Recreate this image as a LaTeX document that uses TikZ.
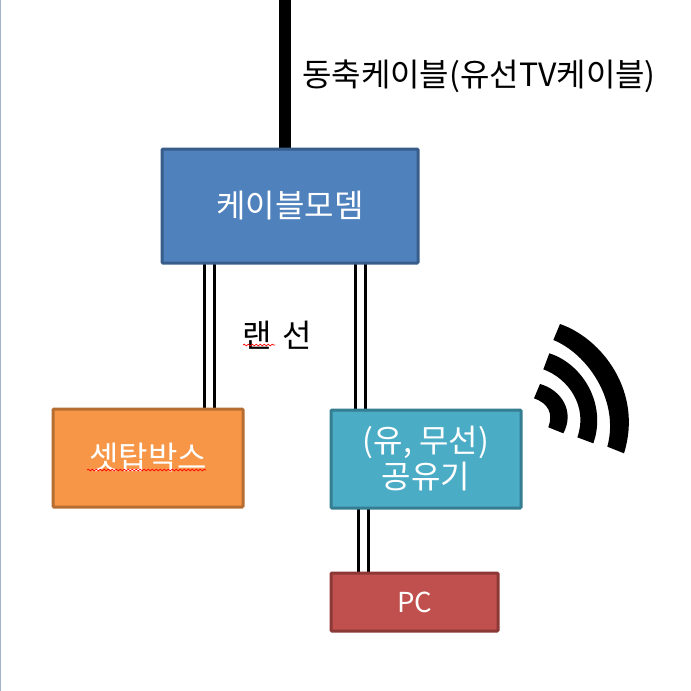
\documentclass[tikz,border=0pt]{standalone}
\usepackage{fontspec}
\setmainfont{Noto Sans CJK KR}
\usetikzlibrary{calc,decorations.pathmorphing}
\pgfdeclarelayer{bg}
\pgfsetlayers{bg,main}
\definecolor{bluefill}{HTML}{4F81BD}\definecolor{blueline}{HTML}{385D8A}
\definecolor{orangefill}{HTML}{F79646}\definecolor{orangeline}{HTML}{B66D31}
\definecolor{tealfill}{HTML}{4BACC6}\definecolor{tealline}{HTML}{357D91}
\definecolor{redfill}{HTML}{C0504D}\definecolor{redline}{HTML}{8C3836}
\definecolor{edgeblue}{HTML}{A3B3CC}
\tikzset{
  box/.style={draw=#1line,fill=#1fill,line width=3pt,rounded corners=1pt,outer sep=0pt,inner sep=0pt,
    text=white,font=\fontsize{32}{37}\selectfont,align=center},
  lan/.style={preaction={draw=black,line width=12.4pt},draw=white,line width=6.8pt},
  coax/.style={draw=black,line width=12pt},
  label/.style={text=black,font=\fontsize{32}{37}\selectfont,inner sep=0pt},
  spell/.style={draw=red,line width=0.7pt,decorate,decoration={snake,amplitude=0.8pt,segment length=4pt}},
  wave/.style={fill=black,draw=none}
}
\begin{document}
\begin{tikzpicture}[x=1pt,y=-1pt]
\useasboundingbox (0,0) rectangle (691,691);
\fill[edgeblue] (0,0) rectangle (1.2,691);
\node[box=blue,minimum width=256pt,minimum height=114pt] (modem) at (290,206) {\raisebox{-1pt}{케이블모뎀}};
\node[box=orange,minimum width=190pt,minimum height=98pt] (stb) at (148,458) {셋탑박스};
\node[box=teal,minimum width=190pt,minimum height=98pt] (router) at (426,459) {\raisebox{-2pt}{(유, 무선)}\\\raisebox{-1pt}{공유기}};
\node[box=red,minimum width=167pt,minimum height=58pt,font=\fontsize{27.5}{32}\selectfont] (pc) at (414.5,602) {PC};
\node[label] (coaxlabel) at (479,76.5) {동축케이블(유선TV케이블)};
\node[label] (lanlabel) at (277.5,335) {랜\hspace{11pt}선};
\coordinate (top) at (285,0);
\coordinate (xa) at (209.3,0);
\coordinate (xb) at (360.5,0);
\coordinate (xc) at (363.5,0);
\begin{pgfonlayer}{bg}
\draw[coax] (top) -- (top |- modem.north);
\draw[lan] (xa |- modem.south) -- (xa |- stb.north);
\draw[lan] (xb |- modem.south) -- (xb |- router.north);
\draw[lan] (xc |- router.south) -- (xc |- pc.north);
\end{pgfonlayer}
\draw[spell] (243,345) -- (275,345);
\draw[spell] (87,470) -- (206,470);
\begin{scope}[shift={(520,310)},x=0.3333pt,y=-0.3333pt]
\path[wave] (120,42) .. controls (245,85) and (370,245) .. (312,430) -- (262,410)
  .. controls (300,270) and (200,130) .. (100,90) -- cycle;
\path[wave] (88,130) .. controls (185,160) and (262,280) .. (220,400) -- (172,382)
  .. controls (205,290) and (145,205) .. (70,178) -- cycle;
\path[wave] (60,222) .. controls (125,240) and (165,305) .. (130,370) -- (85,352)
  .. controls (100,310) and (85,280) .. (42,265) -- cycle;
\end{scope}
\end{tikzpicture}
\end{document}
